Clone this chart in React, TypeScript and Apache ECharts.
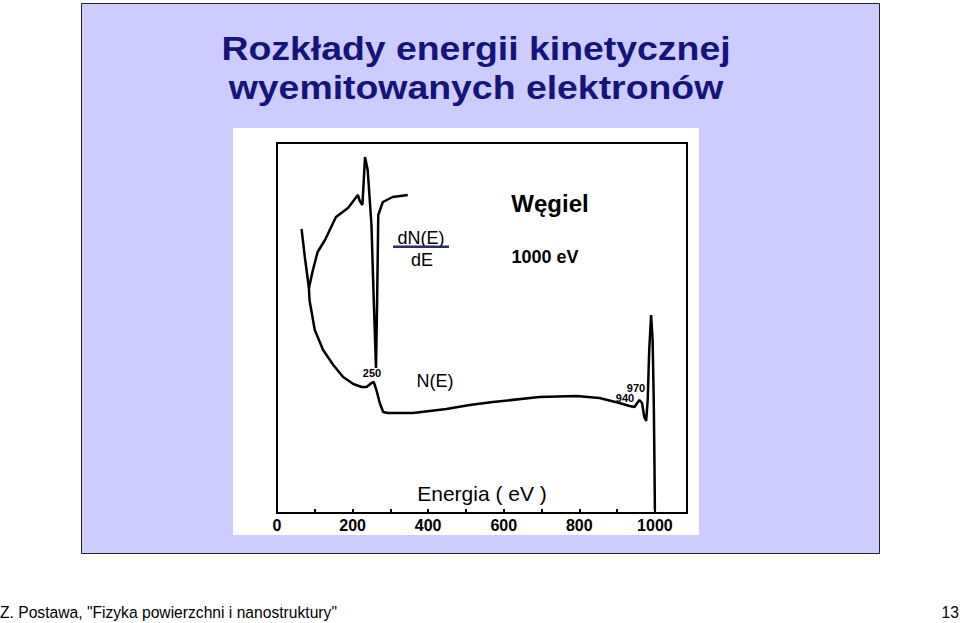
import React, { useEffect, useRef } from "react";
import * as echarts from "echarts";

// Energy axis (eV)
const energyTicks = [0, 200, 400, 600, 800, 1000];

// N(E) curve: [energy eV, intensity (arb.)]
const nE: [number, number][] = [
  [65, 284], [74, 255], [84.5, 225], [86, 213], [100, 183], [122, 163], [149, 148],
  [175, 136], [202, 129], [224, 126], [237, 126], [250, 130], [256, 131], [263, 123],
  [272, 110], [281, 101], [294, 100], [360, 100], [448, 104], [510, 108], [571, 111],
  [695, 116], [792, 117], [853, 115], [906, 110], [933, 107], [946, 106], [959, 113],
  [966, 110], [972, 96], [977, 92], [981, 113], [985, 163], [990, 198], [994, 173],
  [997, 113], [999, 46], [1000, 3],
];

// dN(E)/dE curve: [energy eV, intensity (arb.)]
const dNdE: [number, number][] = [
  [84.5, 225], [95, 243], [107.5, 261], [127, 273], [156, 296], [188, 305], [214, 318],
  [219, 312], [226, 308], [233, 356], [240, 343], [250, 288], [256, 213], [262, 145],
  [265, 213], [268, 298], [280, 311], [306, 316], [346, 318],
];

const titleLines = ["Rozkłady energii kinetycznej", "wyemitowanych elektronów"];
const footerLeft = 'Z. Postawa, "Fizyka powierzchni i nanostruktury"';
const footerRight = "13";

export default function App() {
  const ref = useRef<HTMLDivElement>(null);
  useEffect(() => {
    if (!ref.current) return;
    const chart = echarts.init(ref.current, null, { renderer: "svg" });
    const sans = "Liberation Sans, Arial, sans-serif";
    const narrow = "Liberation Sans Narrow, Liberation Sans, Arial, sans-serif";
    chart.setOption({
      animation: false,
      backgroundColor: "#ffffff",
      grid: {
        left: 277,
        right: 273,
        top: 143,
        bottom: 110,
        show: true,
        borderColor: "#000",
        borderWidth: 2,
        z: 1,
      },
      xAxis: {
        type: "value",
        min: 0,
        max: 1085,
        interval: 100,
        axisLine: { show: true, lineStyle: { color: "#000", width: 2 } },
        axisTick: { show: true, inside: true, length: 4, lineStyle: { color: "#000", width: 2 } },
        splitLine: { show: false },
        axisLabel: {
          showMaxLabel: false,
          margin: 4,
          color: "#000",
          fontWeight: "bold",
          fontSize: 16,
          fontFamily: narrow,
          formatter: (v: number) => (energyTicks.includes(v) ? String(v) : ""),
        },
      },
      yAxis: {
        type: "value",
        min: 0,
        max: 370,
        show: false,
        splitLine: { show: false },
      },
      series: [
        {
          name: "N(E)",
          type: "line",
          data: nE,
          symbol: "none",
          lineStyle: { color: "#000", width: 2.5 },
          z: 5,
        },
        {
          name: "dN(E)/dE",
          type: "line",
          data: dNdE,
          symbol: "none",
          lineStyle: { color: "#000", width: 2.5 },
          z: 5,
        },
      ],
      graphic: [
        {
          type: "rect",
          z: -100,
          silent: true,
          shape: { x: 81.5, y: 3.5, width: 798, height: 550 },
          style: { fill: "#CCCCFF", stroke: "#222", lineWidth: 1 },
        },
        {
          type: "rect",
          z: -99,
          silent: true,
          shape: { x: 233, y: 128, width: 466, height: 407 },
          style: { fill: "#ffffff" },
        },
        {
          type: "text",
          z: 100,
          x: 476,
          y: 49,
          scaleX: 1.1,
          style: {
            text: titleLines[0],
            fill: "#14147a",
            font: `bold 34px ${sans}`,
            textAlign: "center",
            textVerticalAlign: "middle",
          },
        },
        {
          type: "text",
          z: 100,
          x: 476,
          y: 88,
          scaleX: 1.1,
          style: {
            text: titleLines[1],
            fill: "#14147a",
            font: `bold 34px ${sans}`,
            textAlign: "center",
            textVerticalAlign: "middle",
          },
        },
        {
          type: "text",
          z: 100,
          x: 550,
          y: 203,
          style: { text: "Węgiel", fill: "#000", font: `bold 24px ${sans}`, textAlign: "center", textVerticalAlign: "middle" },
        },
        {
          type: "text",
          z: 100,
          x: 545,
          y: 257,
          style: { text: "1000 eV", fill: "#000", font: `bold 18px ${sans}`, textAlign: "center", textVerticalAlign: "middle" },
        },
        {
          type: "text",
          z: 100,
          x: 421,
          y: 238,
          style: { text: "dN(E)", fill: "#000", font: `18px ${sans}`, textAlign: "center", textVerticalAlign: "middle" },
        },
        {
          type: "rect",
          z: 100,
          shape: { x: 393, y: 245.5, width: 56, height: 2.5 },
          style: { fill: "#2b2b70" },
        },
        {
          type: "text",
          z: 100,
          x: 422,
          y: 260,
          style: { text: "dE", fill: "#000", font: `18px ${sans}`, textAlign: "center", textVerticalAlign: "middle" },
        },
        {
          type: "text",
          z: 100,
          x: 435,
          y: 381,
          style: { text: "N(E)", fill: "#000", font: `18px ${sans}`, textAlign: "center", textVerticalAlign: "middle" },
        },
        {
          type: "text",
          z: 100,
          x: 482,
          y: 493,
          style: { text: "Energia ( eV )", fill: "#000", font: `21px ${sans}`, textAlign: "center", textVerticalAlign: "middle" },
        },
        {
          type: "text",
          z: 100,
          x: 372,
          y: 373,
          style: { text: "250", fill: "#000", font: `bold 11px ${narrow}`, textAlign: "center", textVerticalAlign: "middle" },
        },
        {
          type: "text",
          z: 100,
          x: 636,
          y: 388,
          style: { text: "970", fill: "#000", font: `bold 11px ${narrow}`, textAlign: "center", textVerticalAlign: "middle" },
        },
        {
          type: "text",
          z: 100,
          x: 625,
          y: 398,
          style: { text: "940", fill: "#000", font: `bold 11px ${narrow}`, textAlign: "center", textVerticalAlign: "middle" },
        },
        {
          type: "text",
          z: 100,
          x: 0,
          y: 612,
          scaleX: 0.92,
          style: { text: footerLeft, fill: "#000", font: `17px ${narrow}`, textAlign: "left", textVerticalAlign: "middle" },
        },
        {
          type: "text",
          z: 100,
          x: 959,
          y: 612,
          scaleX: 0.92,
          style: { text: footerRight, fill: "#000", font: `17px ${narrow}`, textAlign: "right", textVerticalAlign: "middle" },
        },
      ],
    });
    return () => chart.dispose();
  }, []);
  return (
    <div
      ref={ref}
      style={{ position: "fixed", left: 0, top: 0, width: 960, height: 623 }}
    />
  );
}
